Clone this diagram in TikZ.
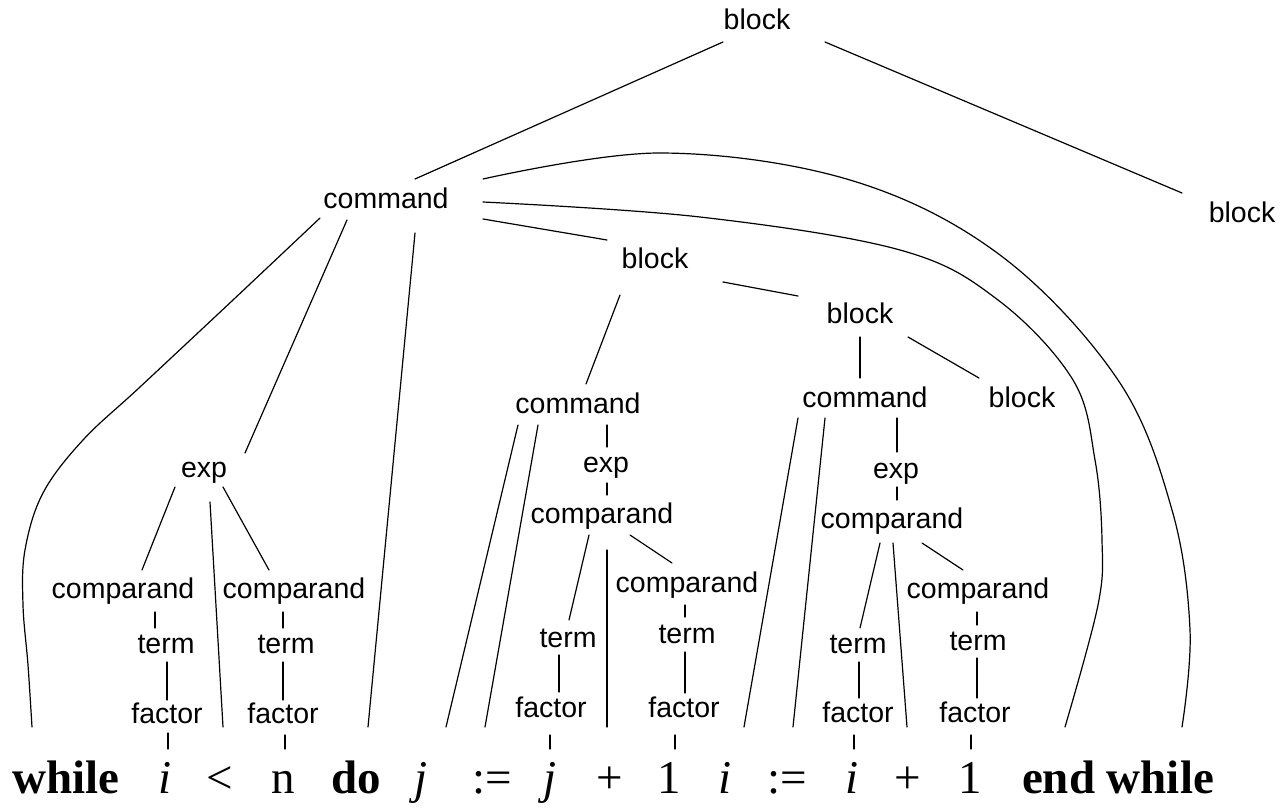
\documentclass[tikz,border=0pt]{standalone}
\usepackage{fontspec}
\setmainfont{Liberation Sans}
\newfontfamily\tms{Liberation Serif}
\begin{document}
\begin{tikzpicture}[x=1pt,y=-1pt,
  lbl/.style={inner sep=0pt, anchor=base, font=\fontsize{28.5}{30}\selectfont},
  tok/.style={inner sep=0pt, anchor=base, font=\tms\fontsize{47}{50}\selectfont},
  edge/.style={line width=1.2pt, line cap=round},
  arc/.style={line width=1.2pt, line cap=round, smooth, tension=0.6}]
\useasboundingbox (0,0) rectangle (1287,808);
% tree labels
\node[lbl] (B0) at (757,30) {block};
\node[lbl] (B1) at (1242,222) {block};
\node[lbl] (C1) at (386,208) {command};
\node[lbl] (B2) at (655,268) {block};
\node[lbl] (B3) at (860,323) {block};
\node[lbl] (C2) at (578,413) {command};
\node[lbl] (C3) at (865,407) {command};
\node[lbl] (B4) at (1022,407) {block};
\node[lbl] (E1) at (204,477) {exp};
\node[lbl] (cL) at (123,598) {comparand};
\node[lbl] (cR) at (294,598) {comparand};
\node[lbl] (tL) at (166,653) {term};
\node[lbl] (tR) at (286,653) {term};
\node[lbl] (fL) at (167,723) {factor};
\node[lbl] (fR) at (283,723) {factor};
\node[lbl] (E2) at (606,472) {exp};
\node[lbl] (c2) at (602,523) {comparand};
\node[lbl] (c2R) at (687,592) {comparand};
\node[lbl] (t2) at (568,647) {term};
\node[lbl] (t2R) at (687,643) {term};
\node[lbl] (f2) at (551,717) {factor};
\node[lbl] (f2R) at (684,717) {factor};
\node[lbl] (E3) at (896,478) {exp};
\node[lbl] (c3) at (892,528) {comparand};
\node[lbl] (c3R) at (978,598) {comparand};
\node[lbl] (t3) at (858,653) {term};
\node[lbl] (t3R) at (978,650) {term};
\node[lbl] (f3) at (858,722) {factor};
\node[lbl] (f3R) at (975,722) {factor};
% tokens
\node[tok] (tw) at (66,793) {\bfseries while};
\node[tok] (ti1) at (165,793) {\itshape i};
\node[tok] (tlt) at (220,793) {<};
\node[tok] (tn) at (283,793) {n};
\node[tok] (tdo) at (356,793) {\bfseries do};
\node[tok] (tj1) at (421,793) {\itshape j};
\node[tok] (tas1) at (492,793) {:=};
\node[tok] (tj2) at (550,793) {\itshape j};
\node[tok] (tp1) at (610,793) {+};
\node[tok] (t11) at (669,793) {1};
\node[tok] (ti2) at (725,793) {\itshape i};
\node[tok] (tas2) at (787,793) {:=};
\node[tok] (ti3) at (852,793) {\itshape i};
\node[tok] (tp2) at (908,793) {+};
\node[tok] (t12) at (970,793) {1};
\node[tok] (tend) at (1118,793) {\bfseries end while};
% straight connectors
\draw[edge] ([shift={(-34,12)}]B0.base) -- ([shift={(29,-29)}]C1.base);
\draw[edge] ([shift={(68,12)}]B0.base) -- ([shift={(-60,-29)}]B1.base);
\draw[edge] ([shift={(97,11)}]C1.base) -- ([shift={(-48,-28)}]B2.base);
\draw[edge] ([shift={(-39,12)}]C1.base) -- ([shift={(41,-24)}]E1.base);
\draw[edge] ([shift={(29,25)}]C1.base) -- ([shift={(12,-66)}]tdo.base);
\draw[edge] ([shift={(-29,10)}]E1.base) -- ([shift={(19,-28)}]cL.base);
\draw[edge] ([shift={(19,10)}]E1.base) -- ([shift={(-25,-28)}]cR.base);
\draw[edge] ([shift={(6,25)}]E1.base) -- ([shift={(3,-66)}]tlt.base);
\draw[edge] ([shift={(32,14)}]cL.base) -- ([shift={(-11,-25)}]tL.base);
\draw[edge] ([shift={(-11,14)}]cR.base) -- ([shift={(-3,-25)}]tR.base);
\draw[edge] ([shift={(1,9)}]tL.base) -- ([shift={(0,-23)}]fL.base);
\draw[edge] ([shift={(-3,9)}]tR.base) -- ([shift={(0,-23)}]fR.base);
\draw[edge] ([shift={(1,10)}]fL.base) -- ([shift={(3,-44)}]ti1.base);
\draw[edge] ([shift={(2,12)}]fR.base) -- ([shift={(2,-44)}]tn.base);
\draw[edge] ([shift={(-35,27)}]B2.base) -- ([shift={(8,-29)}]C2.base);
\draw[edge] ([shift={(68,14)}]B2.base) -- ([shift={(-62,-27)}]B3.base);
\draw[edge] ([shift={(0,14)}]B3.base) -- ([shift={(-5,-29)}]C3.base);
\draw[edge] ([shift={(48,14)}]B3.base) -- ([shift={(-43,-29)}]B4.base);
\draw[edge] ([shift={(-60,12)}]C2.base) -- ([shift={(25,-66)}]tj1.base);
\draw[edge] ([shift={(-40,12)}]C2.base) -- ([shift={(-7,-66)}]tas1.base);
\draw[edge] ([shift={(29,12)}]C2.base) -- ([shift={(1,-25)}]E2.base);
\draw[edge] ([shift={(1,11)}]E2.base) -- ([shift={(5,-28)}]c2.base);
\draw[edge] ([shift={(-13,12)}]c2.base) -- ([shift={(1,-27)}]t2.base);
\draw[edge] ([shift={(5,27)}]c2.base) -- ([shift={(-3,-66)}]tp1.base);
\draw[edge] ([shift={(28,12)}]c2.base) -- ([shift={(-15,-29)}]c2R.base);
\draw[edge] ([shift={(-9,8)}]t2.base) -- ([shift={(8,-25)}]f2.base);
\draw[edge] ([shift={(-2,13)}]c2R.base) -- ([shift={(-2,-26)}]t2R.base);
\draw[edge] ([shift={(-2,9)}]t2R.base) -- ([shift={(1,-24)}]f2R.base);
\draw[edge] ([shift={(-1,18)}]f2.base) -- ([shift={(0,-44)}]tj2.base);
\draw[edge] ([shift={(-9,18)}]f2R.base) -- ([shift={(6,-44)}]t11.base);
\draw[edge] ([shift={(-67,11)}]C3.base) -- ([shift={(19,-66)}]ti2.base);
\draw[edge] ([shift={(-40,11)}]C3.base) -- ([shift={(6,-66)}]tas2.base);
\draw[edge] ([shift={(32,11)}]C3.base) -- ([shift={(1,-26)}]E3.base);
\draw[edge] ([shift={(1,9)}]E3.base) -- ([shift={(5,-28)}]c3.base);
\draw[edge] ([shift={(-12,15)}]c3.base) -- ([shift={(2,-25)}]t3.base);
\draw[edge] ([shift={(1,15)}]c3.base) -- ([shift={(-1,-66)}]tp2.base);
\draw[edge] ([shift={(30,15)}]c3.base) -- ([shift={(-15,-28)}]c3R.base);
\draw[edge] ([shift={(1,9)}]t3.base) -- ([shift={(1,-24)}]f3.base);
\draw[edge] ([shift={(-1,14)}]c3R.base) -- ([shift={(-1,-25)}]t3R.base);
\draw[edge] ([shift={(-1,8)}]t3R.base) -- ([shift={(2,-24)}]f3R.base);
\draw[edge] ([shift={(-4,13)}]f3.base) -- ([shift={(2,-44)}]ti3.base);
\draw[edge] ([shift={(-4,13)}]f3R.base) -- ([shift={(1,-44)}]t12.base);
% curved connectors
\draw[arc] plot coordinates {([shift={(-66,10)}]C1.base) (233,300) (140,387) (83,440) (43,493) (25,550) (23,605) (28,665) ([shift={(-34,-66)}]tw.base)};
\draw[arc] plot coordinates {([shift={(97,-29)}]C1.base) (660,153) (850,180) (1000,255) (1118,380) (1172,510) (1190,630) ([shift={(64,-66)}]tend.base)};
\draw[arc] plot coordinates {([shift={(97,-6)}]C1.base) (700,217) (900,250) (998,300) (1073,380) (1095,460) (1102,540) (1098,605) ([shift={(-53,-66)}]tend.base)};
\end{tikzpicture}
\end{document}
